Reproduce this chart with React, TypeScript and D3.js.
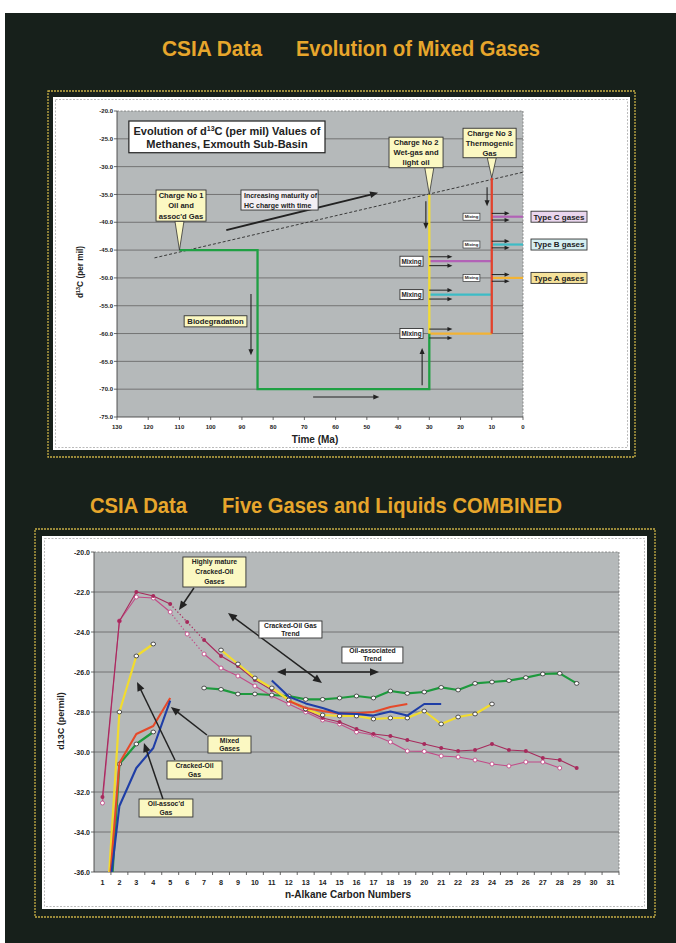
import * as d3 from 'd3';

const FONT = '"Liberation Sans", Arial, Helvetica, sans-serif';
const NARROW = '"Liberation Sans Narrow", "Arial Narrow", "Liberation Sans", Arial, sans-serif';
const INK = '#222';
const NOTE = '#fbf8c2';
const PAGE = '#17201b';
const GOLD = '#e7a62c';
const FRAME = '#c6ad45';
const PLOT_BG = '#b5b9ba';

// ---------- top chart: evolution of d13C of methanes ----------
const timeTicks = [130, 120, 110, 100, 90, 80, 70, 60, 50, 40, 30, 20, 10, 0];
const permilTicks = [-75, -70, -65, -60, -55, -50, -45, -40, -35, -30, -25, -20];

// charge 1: oil + assoc'd gas, biodegraded, then mixed
const charge1Time = [110, 85, 85, 30, 30];
const charge1Value = [-45, -45, -70, -70, -60];
const charge2Time = [30, 30];
const charge2Value = [-35, -60];
const charge3Time = [10, 10];
const charge3Value = [-32, -60];
const maturityTime = [118, 0];
const maturityValue = [-46.4, -31];

const gasTypes = ['Type C gases', 'Type B gases', 'Type A gases'];
const gasColors = ['#b262b6', '#3cbcc6', '#f3b334'];
const gasFills = ['#ead6ee', '#d6f0f2', '#f6e29a'];
const mixValue = [-47, -53, -60];
const finalValue = [-39, -44, -50];

const topArrowFrom = [[95, -41.4], [31.1, -36.2], [11.5, -33.7], [87.1, -52.9], [67.2, -71.4], [32.3, -69.3]];
const topArrowTo = [[46.4, -34.7], [31.1, -41.2], [11.5, -37.1], [87.1, -63.9], [46, -71.4], [32.3, -62.6]];

const chargeLabels = [
  ['Charge No 1', 'Oil and', "assoc'd Gas"],
  ['Charge No 2', 'Wet-gas and', 'light oil'],
  ['Charge No 3', 'Thermogenic', 'Gas'],
];
// box corners [time0, value0, time1, value1] and callout tip
const chargeBoxes = [
  [117.5, -34.2, 101.5, -39.8],
  [42.9, -24.7, 25.6, -30.2],
  [19.2, -23.1, 2.2, -28.4],
];
const chargeTips = [[110, -45], [30, -35], [10, -32]];

// ---------- bottom chart: five gases and liquids combined ----------
const carbonNumbers = [1, 2, 3, 4, 5, 6, 7, 8, 9, 10, 11, 12, 13, 14, 15, 16, 17, 18, 19, 20, 21, 22, 23, 24, 25, 26, 27, 28, 29, 30, 31];
const d13cTicks = [-36, -34, -32, -30, -28, -26, -24, -22, -20];

const matureGasFilled = [-32.25, -23.45, -22.0, -22.2, -22.6, -23.5, -24.4, -25.2, -25.7, -26.4, -26.9, -27.4, -27.9, -28.3, -28.5, -28.85, -29.1, -29.2, -29.4, -29.6, -29.8, -29.95, -29.9, -29.6, -29.9, -29.95, -30.3, -30.4, -30.8];
const matureGasOpen = [-32.55, -23.45, -22.25, -22.3, -23.0, -24.1, -25.1, -25.8, -26.2, -26.7, -27.2, -27.6, -28.0, -28.4, -28.6, -29.0, -29.15, -29.5, -29.95, -29.97, -30.2, -30.25, -30.4, -30.6, -30.7, -30.5, -30.5, -30.8];
const oilAssocGas = [-44.1, -30.6, -29.6, -29.0, null, null, -26.8, -26.87, -27.1, -27.1, -27.15, -27.2, -27.37, -27.37, -27.3, -27.2, -27.3, -26.95, -27.07, -27.0, -26.77, -26.9, -26.57, -26.5, -26.43, -26.28, -26.1, -26.07, -26.57];
const crackedOilGas = [-41.3, -28.0, -25.2, -24.6, null, null, null, -24.9, -25.6, -26.3, -26.8, -27.4, -27.85, -28.15, -28.2, -28.2, -28.35, -28.3, -28.3, -27.95, -28.6, -28.25, -28.1, -27.6];
const mixedGasRed = [-41.0, -30.55, -29.1, -28.7, -27.3, null, null, null, null, null, null, -27.45, -27.8, -27.95, -28.07, -28.07, -28.0, -27.75, -27.6];
const mixedGasBlue = [-39.9, -32.7, -30.8, -29.8, -27.43, null, null, null, null, null, -26.43, -27.23, -27.57, -27.8, -28.07, -28.1, -28.18, -27.98, -28.18, -27.6, -27.6];

const bottomNotes = [
  ['Highly mature', 'Cracked-Oil', 'Gases'],
  ['Cracked-Oil Gas', 'Trend'],
  ['Oil-associated', 'Trend'],
  ['Mixed', 'Gases'],
  ['Cracked-Oil', 'Gas'],
  ["Oil-assoc'd", 'Gas'],
];
// [carbon0, value0, carbon1, value1]
const bottomNoteBoxes = [
  [5.75, -20.25, 9.47, -21.75],
  [10.24, -23.45, 13.96, -24.3],
  [15.14, -24.75, 18.74, -25.55],
  [7.23, -29.2, 9.77, -30.05],
  [4.81, -30.45, 8.06, -31.35],
  [3.16, -32.35, 6.34, -33.25],
];
const bottomNoteWhite = [false, true, true, false, false, false];
const bottomArrowFrom = [[6.4, -21.8], [8.41, -23.05], [11.3, -26.0], [7.17, -29.15], [5.28, -30.4], [4.57, -32.35]];
const bottomArrowTo = [[5.52, -22.9], [13.96, -26.55], [17.33, -26.0], [5.04, -27.75], [3.04, -26.5], [3.45, -29.55]];
const bottomArrowBoth = [false, true, true, false, false, false];

function Arrow({ x1, y1, x2, y2, width = 1.1, head = 6, both = false }: any) {
  const a = Math.atan2(y2 - y1, x2 - x1);
  const hw = head * 0.42;
  const tri = (x: number, y: number, ang: number) => {
    const bx = x - head * Math.cos(ang);
    const by = y - head * Math.sin(ang);
    return `${x},${y} ${bx - hw * Math.sin(ang)},${by + hw * Math.cos(ang)} ${bx + hw * Math.sin(ang)},${by - hw * Math.cos(ang)}`;
  };
  const k = head * 0.8;
  const sx = both ? x1 + k * Math.cos(a) : x1;
  const sy = both ? y1 + k * Math.sin(a) : y1;
  return (
    <g>
      <line x1={sx} y1={sy} x2={x2 - k * Math.cos(a)} y2={y2 - k * Math.sin(a)} stroke={INK} strokeWidth={width} />
      <polygon points={tri(x2, y2, a)} fill={INK} />
      {both && <polygon points={tri(x1, y1, a + Math.PI)} fill={INK} />}
    </g>
  );
}

function Note({ x0, y0, x1, y1, lines, size, fill = NOTE, anchor = 'middle', sw = 0.9 }: any) {
  const h = y1 - y0;
  const lh = h / lines.length;
  const tx = anchor === 'middle' ? (x0 + x1) / 2 : x0 + 3;
  return (
    <g>
      <rect x={x0} y={y0} width={x1 - x0} height={h} fill={fill} stroke="#333" strokeWidth={sw} />
      {lines.map((l: string, i: number) => (
        <text key={i} x={tx} y={y0 + lh * (i + 0.5) + size * 0.36} fontSize={size} fontWeight="bold" textAnchor={anchor} fill={INK}>
          {l}
        </text>
      ))}
    </g>
  );
}

function TopChart() {
  const xT = d3.scaleLinear().domain([130, 0]).range([117, 523]);
  const yT = d3.scaleLinear().domain([-75, -20]).range([417, 111]);
  const path = (ts: number[], vs: number[]) => d3.line()(ts.map((t, i) => [xT(t), yT(vs[i])] as [number, number])) ?? '';
  const [x0, x1] = xT.range();
  const [y0, y1] = [yT(-20), yT(-75)];

  return (
    <g fontFamily={FONT}>
      <rect x={x0} y={y0} width={x1 - x0} height={y1 - y0} fill={PLOT_BG} />
      {permilTicks.slice(1, -1).map((v) => (
        <line key={v} x1={x0} x2={x1} y1={yT(v)} y2={yT(v)} stroke="#6c6c6c" strokeWidth={0.9} />
      ))}
      <path d={`M${x0},${y0}H${x1}V${y1}`} fill="none" stroke="#777" strokeWidth={0.8} strokeDasharray="2,1.5" />
      <path d={`M${x0},${y0}V${y1}H${x1}`} fill="none" stroke="#444" strokeWidth={0.9} />
      {permilTicks.map((v) => (
        <g key={v}>
          <line x1={x0 - 3} x2={x0} y1={yT(v)} y2={yT(v)} stroke="#444" strokeWidth={0.8} />
          <text x={x0 - 4} y={yT(v) + 2.2} fontSize={6} fontWeight="bold" textAnchor="end" fill={INK}>{v.toFixed(1)}</text>
        </g>
      ))}
      {timeTicks.map((t) => (
        <g key={t}>
          <line x1={xT(t)} x2={xT(t)} y1={y1} y2={y1 + 3} stroke="#444" strokeWidth={0.8} />
          <text x={xT(t)} y={y1 + 12} fontSize={6} fontWeight="bold" textAnchor="middle" fill={INK}>{t}</text>
        </g>
      ))}
      <text x={(x0 + x1) / 2 - 5} y={443} fontSize={10} fontWeight="bold" textAnchor="middle" fill={INK}>Time (Ma)</text>
      <text transform={`translate(83,${(y0 + y1) / 2 + 8}) rotate(-90)`} fontSize={8.3} fontWeight="bold" textAnchor="middle" fill={INK}>
        d<tspan dy={-3} fontSize={5.5}>13</tspan><tspan dy={3}>C (per mil)</tspan>
      </text>

      {/* maturity trend */}
      <path d={path(maturityTime, maturityValue)} stroke="#2a2a2a" strokeWidth={0.9} strokeDasharray="3,2" fill="none" />

      {/* mixing lines, from charge 2 to charge 3 and from charge 3 out to the gas types */}
      {gasTypes.map((g, i) => (
        <g key={g}>
          <path d={path([30, 10], [mixValue[i], mixValue[i]])} stroke={gasColors[i]} strokeWidth={2.2} />
          <path d={path([10, 0], [finalValue[i], finalValue[i]])} stroke={gasColors[i]} strokeWidth={2.2} />
        </g>
      ))}

      <path d={path(charge1Time, charge1Value)} stroke="#1fa043" strokeWidth={2.3} fill="none" />
      <path d={path(charge2Time, charge2Value)} stroke="#f4dc34" strokeWidth={2.3} fill="none" />
      <path d={path(charge3Time, charge3Value)} stroke="#e2422c" strokeWidth={2.3} fill="none" />

      {topArrowFrom.map((f, i) => (
        <Arrow key={i} x1={xT(f[0])} y1={yT(f[1])} x2={xT(topArrowTo[i][0])} y2={yT(topArrowTo[i][1])} width={i === 0 ? 1.8 : 1.1} head={i === 0 ? 8 : 6} />
      ))}
      {gasTypes.map((g, i) => (
        <g key={g}>
          {[-0.8, 0.8].map((d) => (
            <Arrow key={d} x1={xT(30)} y1={yT(mixValue[i] + d)} x2={xT(22.6)} y2={yT(mixValue[i] + d)} width={1} head={5} />
          ))}
          {[-0.6, 0.6].map((d) => (
            <Arrow key={d} x1={xT(10)} y1={yT(finalValue[i] + d)} x2={xT(4.3)} y2={yT(finalValue[i] + d)} width={1} head={5} />
          ))}
          <Note x0={xT(39.4)} x1={xT(32)} y0={yT(mixValue[i]) - 5} y1={yT(mixValue[i]) + 5} lines={['Mixing']} size={6.4} fill="#fff" />
          <Note x0={xT(19.2)} x1={xT(13.8)} y0={yT(finalValue[i]) - 3.5} y1={yT(finalValue[i]) + 3.5} lines={['Mixing']} size={4.3} fill="#fff" sw={0.7} />
          <Note x0={x1 + 8} x1={x1 + 64} y0={yT(finalValue[i]) - 5.5} y1={yT(finalValue[i]) + 5.5} lines={[g]} size={8} fill={gasFills[i]} />
        </g>
      ))}

      {chargeBoxes.map((b, i) => {
        const tx = xT(chargeTips[i][0]);
        const ty = yT(chargeTips[i][1]);
        const by = yT(b[3]);
        return (
          <g key={i}>
            <polygon points={`${tx - 4.5},${by} ${tx + 4.5},${by} ${tx},${ty}`} fill={NOTE} stroke="#333" strokeWidth={0.8} />
            <Note x0={xT(b[0])} y0={yT(b[1])} x1={xT(b[2])} y1={by} lines={chargeLabels[i]} size={7.6} />
          </g>
        );
      })}

      <Note x0={xT(90.3)} y0={yT(-34.2)} x1={xT(65.6)} y1={yT(-37.8)} lines={['Increasing maturity of', 'HC charge with time']} size={7} fill="#f3eff4" anchor="start" />
      <Note x0={xT(108.5)} y0={yT(-56.8)} x1={xT(88.4)} y1={yT(-58.8)} lines={['Biodegradation']} size={7.7} />

      {/* title box */}
      <rect x={xT(126.2)} y={yT(-21.8)} width={xT(63.4) - xT(126.2)} height={yT(-27.5) - yT(-21.8)} fill="#fff" stroke="#222" strokeWidth={1.2} />
      <text x={(xT(126.2) + xT(63.4)) / 2} y={yT(-21.8) + 14} fontSize={11} fontWeight="bold" textAnchor="middle" fill={INK}>
        Evolution of d<tspan dy={-4} fontSize={7}>13</tspan><tspan dy={4}>C (per mil) Values of</tspan>
      </text>
      <text x={(xT(126.2) + xT(63.4)) / 2} y={yT(-21.8) + 27} fontSize={11} fontWeight="bold" textAnchor="middle" fill={INK}>
        Methanes, Exmouth Sub-Basin
      </text>
    </g>
  );
}

function BottomChart() {
  const xB = d3.scaleLinear().domain([0.5, 31.5]).range([94, 619]);
  const yB = d3.scaleLinear().domain([-36, -20]).range([872, 552]);
  const [x0, x1] = xB.range();
  const [y0, y1] = [yB(-20), yB(-36)];
  const line = d3
    .line<[number, number | null]>()
    .defined((d) => d[1] != null)
    .x((d) => xB(d[0]))
    .y((d) => yB(d[1] as number));
  const pts = (vals: (number | null)[]) => vals.map((v, i) => [carbonNumbers[i], v] as [number, number | null]);

  const series = [
    { values: matureGasOpen, color: '#c24b88', width: 1.1, marker: 'ring', dotted: true },
    { values: matureGasFilled, color: '#a72a5c', width: 1.1, marker: 'dot', dotted: true },
    { values: oilAssocGas, color: '#1d9a3d', width: 2.2, marker: 'open', dotted: false },
    { values: crackedOilGas, color: '#f2dc2e', width: 2.2, marker: 'open', dotted: false },
    { values: mixedGasRed, color: '#e5492a', width: 2.1, marker: '', dotted: false },
    { values: mixedGasBlue, color: '#1f3ea6', width: 2.1, marker: '', dotted: false },
  ];

  return (
    <g fontFamily={FONT}>
      <defs>
        <clipPath id="plotB">
          <rect x={x0} y={y0} width={x1 - x0} height={y1 - y0} />
        </clipPath>
      </defs>
      <rect x={x0} y={y0} width={x1 - x0} height={y1 - y0} fill={PLOT_BG} />
      {d13cTicks.slice(1, -1).map((v) => (
        <line key={v} x1={x0} x2={x1} y1={yB(v)} y2={yB(v)} stroke="#6c6c6c" strokeWidth={0.9} />
      ))}
      <path d={`M${x0},${y0}H${x1}V${y1}`} fill="none" stroke="#777" strokeWidth={0.8} strokeDasharray="2,1.5" />
      <path d={`M${x0},${y0}V${y1}H${x1}`} fill="none" stroke="#444" strokeWidth={0.9} />
      {d13cTicks.map((v) => (
        <g key={v}>
          <line x1={x0 - 3} x2={x0} y1={yB(v)} y2={yB(v)} stroke="#444" strokeWidth={0.8} />
          <text x={x0 - 4} y={yB(v) + 2.5} fontSize={7} fontWeight="bold" textAnchor="end" fill={INK}>{v.toFixed(1)}</text>
        </g>
      ))}
      {carbonNumbers.map((n) => (
        <g key={n}>
          <line x1={xB(n + 0.5)} x2={xB(n + 0.5)} y1={y1} y2={y1 + 3} stroke="#444" strokeWidth={0.8} />
          <text x={xB(n)} y={y1 + 13} fontSize={7.2} fontWeight="bold" textAnchor="middle" fill={INK}>{n}</text>
        </g>
      ))}
      <text x={348} y={898} fontSize={10} fontWeight="bold" textAnchor="middle" fill={INK}>n-Alkane Carbon Numbers</text>
      <text transform={`translate(64,${(y0 + y1) / 2 + 9}) rotate(-90)`} fontSize={9} fontWeight="bold" textAnchor="middle" fill={INK}>d13C (permil)</text>

      <g clipPath="url(#plotB)">
        {series.map((s, si) => {
          const data = pts(s.values);
          const solid = s.dotted ? data.map((d, i) => (i === 5 ? ([d[0], null] as [number, number | null]) : d)) : data;
          return (
            <g key={si}>
              <path d={line(solid) ?? ''} fill="none" stroke={s.color} strokeWidth={s.width} strokeLinejoin="round" />
              {s.dotted && (
                <path d={line(data.slice(4, 7)) ?? ''} fill="none" stroke={s.color} strokeWidth={1.2} strokeDasharray="1.3,2.2" />
              )}
              {data
                .filter((d) => d[1] != null && s.marker)
                .map((d) => {
                  const cx = xB(d[0]);
                  const cy = yB(d[1] as number);
                  if (s.marker === 'dot') return <circle key={d[0]} cx={cx} cy={cy} r={2} fill={s.color} />;
                  if (s.marker === 'ring') return <circle key={d[0]} cx={cx} cy={cy} r={2} fill="#fff" stroke={s.color} strokeWidth={0.9} />;
                  return <ellipse key={d[0]} cx={cx} cy={cy} rx={2.3} ry={1.9} fill="#fff" stroke="#2a2a2a" strokeWidth={0.8} />;
                })}
            </g>
          );
        })}
      </g>

      {bottomArrowFrom.map((f, i) => (
        <Arrow key={i} x1={xB(f[0])} y1={yB(f[1])} x2={xB(bottomArrowTo[i][0])} y2={yB(bottomArrowTo[i][1])} width={1.5} head={9} both={bottomArrowBoth[i]} />
      ))}
      {bottomNoteBoxes.map((b, i) => (
        <Note key={i} x0={xB(b[0])} y0={yB(b[1])} x1={xB(b[2])} y1={yB(b[3])} lines={bottomNotes[i]} size={6.8} fill={bottomNoteWhite[i] ? '#fff' : NOTE} />
      ))}
    </g>
  );
}

export default function App() {
  return (
    <svg width={676} height={943} style={{ position: 'absolute', left: 0, top: 0, background: '#fff' }}>
      <rect x={5} y={13} width={671} height={930} fill={PAGE} />

      <g fontFamily={NARROW} fontWeight="bold" fontSize={22} fill={GOLD}>
        <text x={162} y={56} textLength={100} lengthAdjust="spacingAndGlyphs">CSIA Data</text>
        <text x={296} y={56} textLength={244} lengthAdjust="spacingAndGlyphs">Evolution of Mixed Gases</text>
        <text x={90} y={513} textLength={97} lengthAdjust="spacingAndGlyphs">CSIA Data</text>
        <text x={222} y={513} textLength={340} lengthAdjust="spacingAndGlyphs">Five Gases and Liquids COMBINED</text>
      </g>

      {/* panels */}
      <rect x={48} y={91} width={587} height={366} fill="none" stroke={FRAME} strokeWidth={1.3} strokeDasharray="2,1" />
      <rect x={53} y={97} width={577} height={353} fill="#fff" />
      <rect x={55.5} y={99.5} width={572} height={348} fill="none" stroke="#a9a9a9" strokeWidth={0.8} strokeDasharray="2,1.5" />

      <rect x={35} y={529} width={620} height={388} fill="none" stroke={FRAME} strokeWidth={1.3} strokeDasharray="2,1" />
      <rect x={42} y={536} width={605} height={373} fill="#fff" />
      <rect x={44.5} y={538.5} width={600} height={368} fill="none" stroke="#a9a9a9" strokeWidth={0.8} strokeDasharray="2,1.5" />

      <TopChart />
      <BottomChart />
    </svg>
  );
}
